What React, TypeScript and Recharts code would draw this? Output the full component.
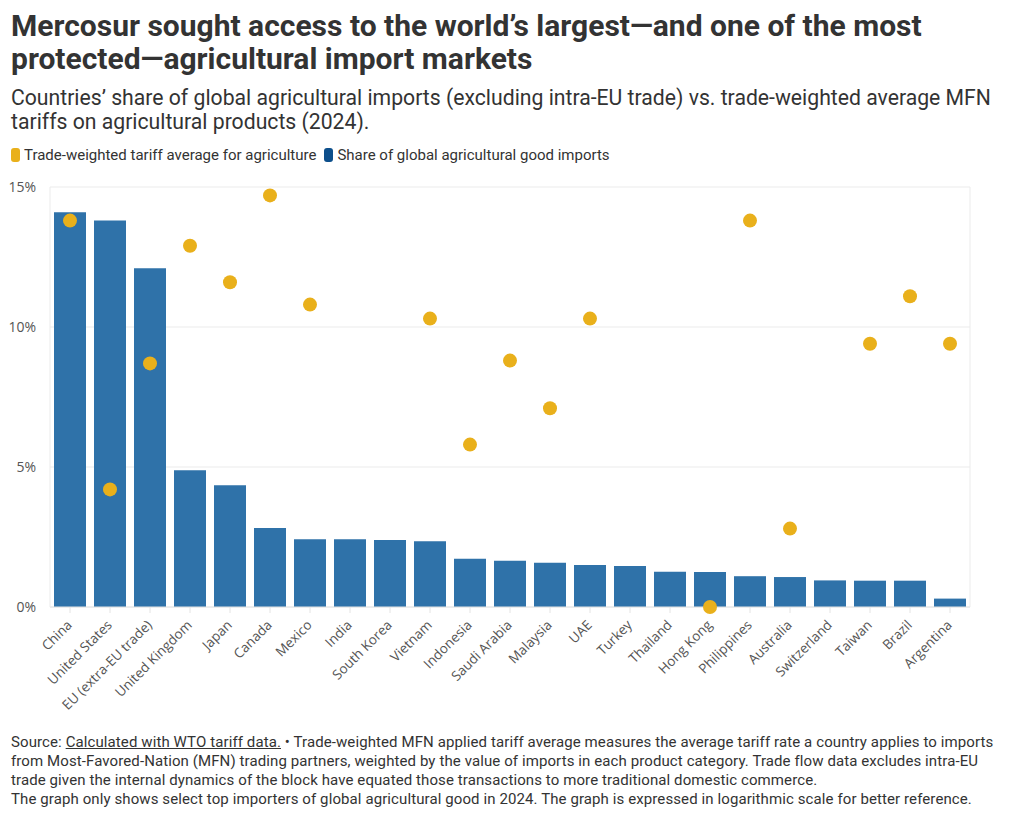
import React from 'react'
import {
  ComposedChart,
  Bar,
  Line,
  XAxis,
  YAxis,
  CartesianGrid,
  ReferenceLine,
} from 'recharts'

const countries = [
  'China',
  'United States',
  'EU (extra-EU trade)',
  'United Kingdom',
  'Japan',
  'Canada',
  'Mexico',
  'India',
  'South Korea',
  'Vietnam',
  'Indonesia',
  'Saudi Arabia',
  'Malaysia',
  'UAE',
  'Turkey',
  'Thailand',
  'Hong Kong',
  'Philippines',
  'Australia',
  'Switzerland',
  'Taiwan',
  'Brazil',
  'Argentina',
]

// share of global agricultural good imports, %
const importShare = [
  14.1, 13.8, 12.1, 4.88, 4.35, 2.82, 2.42, 2.42, 2.39, 2.35, 1.72, 1.65, 1.58,
  1.5, 1.46, 1.26, 1.25, 1.1, 1.07, 0.95, 0.94, 0.94, 0.3,
]

// trade-weighted tariff average, % (null = above the 15% axis, not drawn)
const tariffAvg = [
  13.8, 4.2, 8.7, 12.9, 11.6, 14.7, 10.8, null, null, 10.3, 5.8, 8.8, 7.1,
  10.3, null, null, 0, 13.8, 2.8, null, 9.4, 11.1, 9.4,
]

const yTicks = [0, 5, 10, 15]

const BLUE = '#2f72a9'
const LEGEND_BLUE = '#0d4f8b'
const GOLD = '#e9b01b'
const TEXT = '#333'
const AXIS_TEXT = '#555'

const data = countries.map((c, i) => ({
  country: c,
  share: importShare[i],
  tariff: tariffAvg[i],
}))

function CountryTick(props: any) {
  const { x, y, payload } = props
  return (
    <g transform={`translate(${x},${y + 8})`}>
      <text
        transform="rotate(-45)"
        textAnchor="end"
        dy={4}
        fill={AXIS_TEXT}
        fontSize={13.5}
        fontFamily="'Open Sans', sans-serif"
      >
        {payload.value}
      </text>
    </g>
  )
}

export default function App() {
  return (
    <div
      style={{
        position: 'absolute',
        top: 0,
        left: 0,
        width: 1020,
        height: 820,
        background: '#fff',
        fontFamily: "'Roboto', sans-serif",
        color: TEXT,
      }}
    >
      <div
        style={{
          position: 'absolute',
          left: 11,
          top: 9,
          fontSize: 30,
          fontWeight: 700,
          lineHeight: '33px',
          width: 1005,
        }}
      >
        Mercosur sought access to the world’s largest—and one of the most
        <br />
        protected—agricultural import markets
      </div>
      <div
        style={{
          position: 'absolute',
          left: 11,
          top: 86,
          fontSize: 21.2,
          lineHeight: '24px',
          width: 1008,
        }}
      >
        Countries’ share of global agricultural imports (excluding intra-EU trade) vs. trade-weighted average MFN
        <br />
        tariffs on agricultural products (2024).
      </div>
      <div
        style={{
          position: 'absolute',
          left: 11,
          top: 146,
          fontSize: 15,
          display: 'flex',
          alignItems: 'center',
          gap: 4,
          color: TEXT,
        }}
      >
        <span style={{ width: 9, height: 14, borderRadius: 3, background: GOLD, display: 'inline-block' }} />
        <span style={{ marginRight: 4 }}>Trade-weighted tariff average for agriculture</span>
        <span style={{ width: 9, height: 14, borderRadius: 3, background: LEGEND_BLUE, display: 'inline-block' }} />
        <span>Share of global agricultural good imports</span>
      </div>

      <div style={{ position: 'absolute', left: 0, top: 170 }}>
        <ComposedChart
          width={1020}
          height={547}
          data={data}
          margin={{ top: 17, right: 0, bottom: 0, left: 0 }}
          barCategoryGap={8}
        >
          <CartesianGrid vertical={false} stroke="#ebebeb" yAxisId="left" />
          <XAxis
            dataKey="country"
            interval={0}
            height={110}
            tick={<CountryTick />}
            tickLine={{ stroke: '#e4e4e4' }}
            tickSize={6}
            axisLine={false}
          />
          <YAxis
            yAxisId="left"
            domain={[0, 15]}
            ticks={yTicks}
            width={50}
            tickFormatter={(v) => `${v}%`}
            tick={{ fill: AXIS_TEXT, fontSize: 14, fontFamily: "'Open Sans', sans-serif" }}
            axisLine={{ stroke: '#ebebeb' }}
            tickLine={false}
            tickMargin={8}
          />
          <YAxis
            yAxisId="right"
            orientation="right"
            domain={[0, 15]}
            ticks={yTicks}
            width={50}
            tickFormatter={(v) => `${v}%`}
            tick={{ fill: AXIS_TEXT, fontSize: 14, fontFamily: "'Open Sans', sans-serif" }}
            axisLine={{ stroke: '#ebebeb' }}
            tickLine={false}
            tickMargin={10}
          />
          <ReferenceLine yAxisId="left" y={0} stroke="#e4e4e4" />
          <Bar
            yAxisId="left"
            dataKey="share"
            fill={BLUE}
            barSize={32}
            isAnimationActive={false}
          />
          <Line
            yAxisId="left"
            dataKey="tariff"
            stroke="none"
            strokeWidth={0}
            connectNulls={false}
            dot={{ r: 7, fill: GOLD, stroke: 'none' }}
            activeDot={false}
            isAnimationActive={false}
          />
        </ComposedChart>
      </div>

      <div
        style={{
          position: 'absolute',
          left: 11,
          top: 733,
          fontSize: 15,
          lineHeight: '19px',
          color: TEXT,
          letterSpacing: 0.1,
          width: 1008,
          whiteSpace: 'nowrap',
        }}
      >
        Source: <span style={{ textDecoration: 'underline' }}>Calculated with WTO tariff data.</span> • Trade-weighted MFN applied tariff average measures the average tariff rate a country applies to imports
        <br />
        from Most-Favored-Nation (MFN) trading partners, weighted by the value of imports in each product category. Trade flow data excludes intra-EU
        <br />
        trade given the internal dynamics of the block have equated those transactions to more traditional domestic commerce.
        <br />
        The graph only shows select top importers of global agricultural good in 2024. The graph is expressed in logarithmic scale for better reference.
      </div>
    </div>
  )
}
